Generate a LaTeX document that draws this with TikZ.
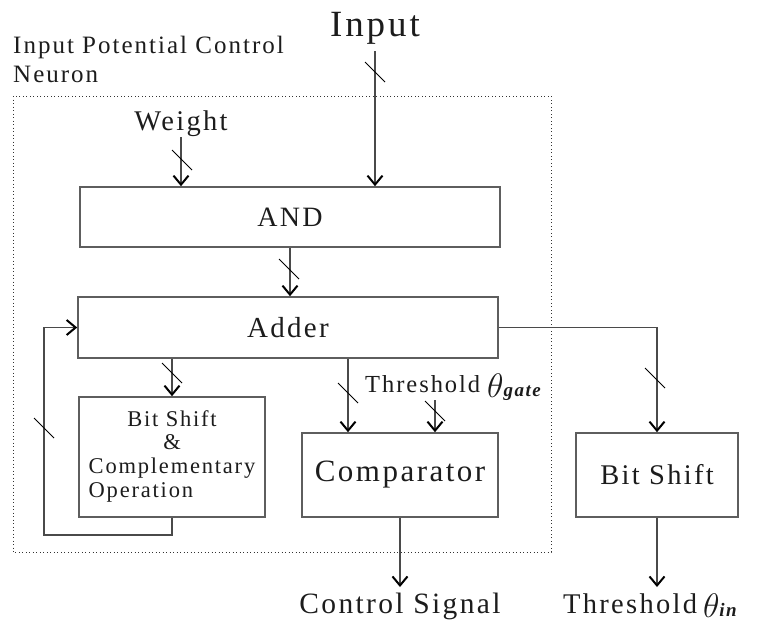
\RequirePackage{fix-cm}
\documentclass[tikz,border=0pt]{standalone}
\usepackage{fontspec}
\setmainfont{Liberation Serif}[LetterSpace=8]
\usetikzlibrary{arrows.meta,calc}
\definecolor{linegray}{HTML}{4A4A4A}
\definecolor{boxgray}{HTML}{5E5E5E}
\definecolor{textc}{HTML}{1C1C1C}
\newcommand\fsz[2]{\fontsize{#1}{#2}\selectfont}
\begin{document}
\begin{tikzpicture}[x=1pt,y=-1pt,
  box/.style={draw=boxgray, line width=1.6pt, inner sep=0pt, text=textc},
  lbl/.style={inner sep=0pt, text=textc},
  arr/.style={draw=linegray, line width=1.3pt,
    -{Straight Barb[length=9pt,width=15pt,line width=2pt,color=black]}},
  slash/.style={draw=black, line width=0.8pt},
  zone/.style={draw=black!80, line width=0.9pt, dash pattern=on 0.9pt off 2.6pt}]
\useasboundingbox (0,0) rectangle (757,630);

% dotted region
\draw[zone] (13,96) rectangle (551,552);

% boxes
\node[box, minimum width=420pt, minimum height=60pt, font=\fsz{28}{30}] (and) at (290,217) {AND};
\node[box, minimum width=420pt, minimum height=61pt, font=\fsz{29}{31}] (adder) at (288,327.5) {Adder};
\node[box, minimum width=186pt, minimum height=120pt, font=\fsz{22.5}{23.7}] (bsc) at (172,457)
  {\begin{tabular}{@{}l@{}}\multicolumn{1}{@{}c@{}}{Bit Shift}\\ \multicolumn{1}{@{}c@{}}{\&}\\ Complementary\\ Operation\end{tabular}};
\node[box, minimum width=196pt, minimum height=84pt, font=\fsz{31}{33}] (comp) at (400,475) {Comparator};
\node[box, minimum width=162pt, minimum height=84pt, font=\fsz{28.5}{30}] (bs) at (657,475) {Bit Shift};

% labels
\node[lbl, anchor=base, font=\fsz{37}{40}] (input) at (375,36) {Input};
\node[lbl, anchor=north west, align=left, font=\fsz{25}{29}] (ipc) at (13,36) {Input Potential Control\\Neuron};
\node[lbl, anchor=base, font=\fsz{28.5}{30}] (weight) at (181,130) {Weight};
\node[lbl, anchor=base west, font=\fsz{24.5}{26}] (thg) at (365,392)
  {Threshold\hspace{7pt}{\fsz{34}{34}\raisebox{-5pt}{$\theta$}}\raisebox{-4pt}{\fsz{19}{20}\bfseries\itshape gate}};
\node[lbl, anchor=base, font=\fsz{29.5}{31}] (ctrl) at (400,613) {Control Signal};
\node[lbl, anchor=base west, font=\fsz{28.5}{30}] (thin) at (563,613)
  {Threshold\hspace{6pt}{\fsz{34}{34}\raisebox{-4pt}{$\theta$}}\raisebox{-3pt}{\fsz{19}{20}\bfseries\itshape in}};

% free ends
\coordinate (inputTop) at (375,51);
\coordinate (weightTop) at (181,137);
\coordinate (thgBot) at (435,400);
\coordinate (ctrlEnd) at (400,587);
\coordinate (thinEnd) at (657,587);
\coordinate (fb) at (44,535);

% connectors
\draw[arr] (inputTop) -- (inputTop |- and.north);
\draw[arr] (weightTop) -- (weightTop |- and.north);
\draw[arr] (and.south) -- (and.south |- adder.north);
\draw[arr] (bsc.north |- adder.south) -- (bsc.north);
\draw[arr] ([xshift=-52pt]comp.north |- adder.south) -- ([xshift=-52pt]comp.north);
\draw[arr] (thgBot) -- (thgBot |- comp.north);
\draw[arr] (comp.south) -- (ctrlEnd);
\draw[arr] (adder.east) -| (bs.north);
\draw[arr] (bs.south) -- (thinEnd);
\draw[arr] (bsc.south) |- (fb) |- (adder.west);

% bus slashes
\foreach \p in {(375,72),(182,160),(289,269),(172,373),(348,393),(435,411),(655,378),(44,428)}
  \draw[slash] \p +(-10,-10) -- +(10,10);
\end{tikzpicture}
\end{document}
